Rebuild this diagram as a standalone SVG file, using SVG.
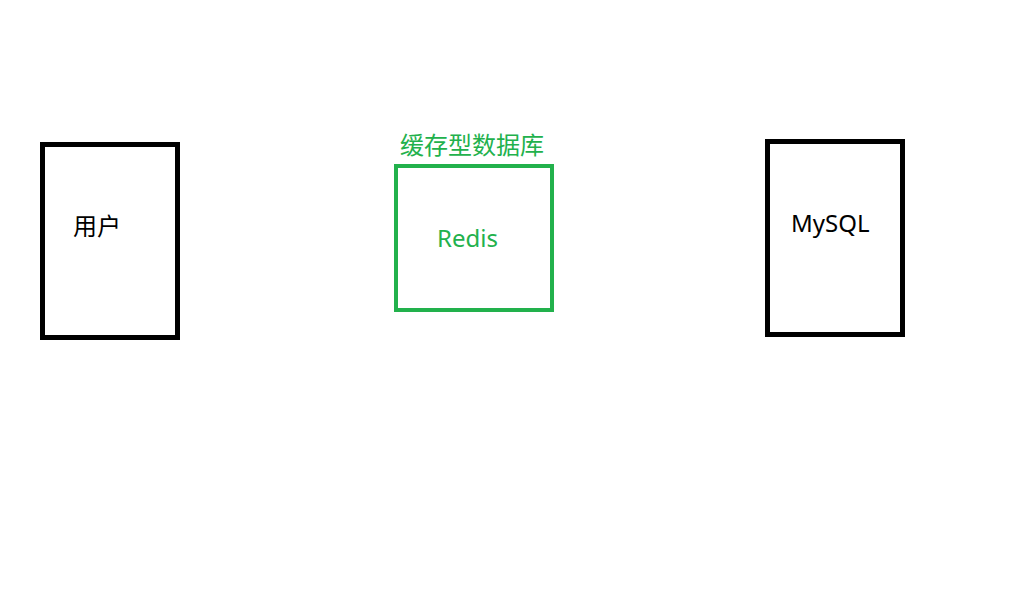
<svg xmlns="http://www.w3.org/2000/svg" width="1018" height="604" viewBox="0 0 1018 604">
<style>
.box{fill:#fff;stroke:#000;stroke-width:5}
.g{fill:none;stroke:#22b14c;stroke-width:4}
text{font-family:"Noto Sans","Noto Sans CJK SC",sans-serif;font-size:24px}
.gt{fill:#22b14c}
</style>
<rect width="1018" height="604" fill="#fff"/>
<g id="user">
<rect class="box" x="42.5" y="144.5" width="135" height="193"/>
<text x="73" y="235" font-family="Noto Sans CJK SC, sans-serif">用户</text>
</g>
<g id="redis">
<text class="gt" x="400" y="154" font-family="Noto Sans CJK SC, sans-serif">缓存型数据库</text>
<rect class="g" x="396" y="166" width="156" height="144"/>
<text class="gt" x="437" y="247">Redis</text>
</g>
<g id="mysql">
<rect class="box" x="767.5" y="141.5" width="135" height="193"/>
<text x="791" y="232">MySQL</text>
</g>
<g id="connectors"></g>
</svg>
